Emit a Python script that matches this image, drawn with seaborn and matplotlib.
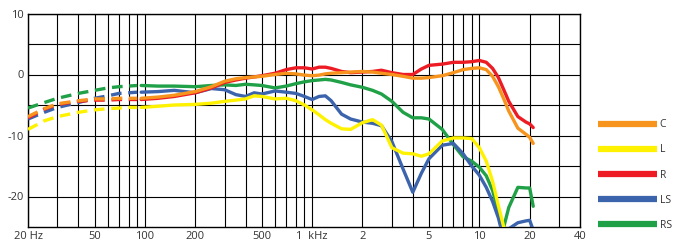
import numpy as np
import pandas as pd
import matplotlib
matplotlib.use("Agg")
import matplotlib.pyplot as plt
from matplotlib.lines import Line2D
from matplotlib.ticker import FixedLocator, NullFormatter
import seaborn as sns

# Frequencies (Hz): dashed low-end part and solid part
freq_low = [20, 25, 30, 40, 50, 60, 70, 80, 90]
freq = [95, 120, 150, 200, 250, 300, 350, 400, 450, 500, 600, 700, 800, 900,
        1000, 1100, 1200, 1300, 1500, 1700, 2000, 2300, 2600, 3000, 3500, 4000,
        4500, 5000, 6000, 7000, 8000, 9000, 10000, 11000, 12000, 13000, 14000,
        15000, 17000, 19000, 20000, 21000]

# Level (dB) per channel
c_low = [-6.9, -5.6, -4.8, -4.3, -4.0, -4.0, -3.9, -3.9, -3.9]
r_low = [-7.1, -5.7, -4.9, -4.4, -4.2, -4.2, -4.1, -4.1, -4.1]
l_low = [-9.0, -7.6, -6.9, -6.2, -5.8, -5.6, -5.5, -5.4, -5.4]
ls_low = [-7.3, -6.2, -5.4, -4.6, -3.9, -3.5, -3.1, -3.0, -2.9]
rs_low = [-5.5, -4.6, -3.9, -3.1, -2.6, -2.2, -2.0, -1.9, -1.8]

c_db = [-3.9, -3.7, -3.4, -2.8, -2.0, -1.1, -0.7, -0.5, -0.4, -0.3, 0.0, 0.2, 0.1, -0.1,
        -0.2, -0.1, 0.1, 0.2, 0.3, 0.4, 0.5, 0.4, 0.2, 0.0, -0.3, -0.6,
        -0.6, -0.5, -0.2, 0.3, 0.8, 1.0, 1.1, 0.8, -0.3, -2.0, -4.0,
        -6.0, -8.8, -9.8, -10.3, -11.3]
r_db = [-4.1, -3.9, -3.6, -3.0, -2.2, -1.3, -0.9, -0.6, -0.4, -0.2, 0.2, 0.8, 1.1, 1.1,
        0.9, 1.2, 1.2, 1.0, 0.5, 0.3, 0.4, 0.5, 0.7, 0.3, 0.0, 0.0,
        0.9, 1.5, 1.7, 2.0, 2.0, 2.1, 2.3, 2.0, 1.0, -0.5, -2.5,
        -4.4, -6.9, -7.8, -8.1, -8.7]
l_db = [-5.4, -5.2, -5.0, -4.9, -4.7, -4.4, -4.2, -4.0, -3.5, -3.6, -4.0, -3.9, -4.3, -5.0,
        -5.8, -6.6, -7.4, -8.0, -8.9, -9.0, -7.9, -7.4, -8.3, -12.0, -12.9, -13.0,
        -13.4, -13.0, -10.9, -10.4, -10.4, -10.5, -12.0, -14.2, -17.5, -21.5, -25.0,
        -28.0]
ls_db = [-2.9, -2.8, -2.6, -3.0, -2.3, -2.5, -3.3, -3.6, -3.0, -3.2, -2.7, -2.9, -3.1, -3.6,
         -4.1, -3.6, -3.5, -4.3, -6.5, -7.3, -7.8, -8.0, -8.4, -11.0, -15.5, -19.3,
         -16.2, -13.8, -11.6, -11.3, -13.0, -15.0, -16.5, -18.5, -20.8, -23.5, -27.0,
         -25.3, -24.3, -24.0, -23.9, -25.5]
rs_db = [-1.8, -1.9, -1.9, -2.0, -1.8, -1.7, -1.8, -1.6, -1.7, -1.8, -2.2, -1.9, -1.5, -1.2,
         -1.0, -0.9, -0.8, -0.9, -1.3, -1.7, -2.1, -2.6, -3.2, -4.4, -6.2, -7.1,
         -7.1, -7.3, -9.0, -11.5, -13.5, -14.2, -15.2, -16.6, -19.0, -22.5, -25.0,
         -21.8, -18.5, -18.6, -18.6, -21.6]

channels = ["C", "L", "R", "LS", "RS"]
colors = {"C": "#F7941D", "L": "#FFF200", "R": "#ED1C24", "LS": "#3B64AD", "RS": "#20A047"}
low = {"C": c_low, "L": l_low, "R": r_low, "LS": ls_low, "RS": rs_low}
main_db = {"C": c_db, "L": l_db, "R": r_db, "LS": ls_db, "RS": rs_db}
draw_order = ["RS", "LS", "L", "R", "C"]

x_ticks = [20, 50, 100, 200, 500, 1000, 2000, 5000, 10000, 20000, 40000]
x_labels = ["20 Hz", "50", "100", "200", "500", "1  kHz", "2", "5", "10", "20", "40"]
y_ticks = [10, 0, -10, -20]
y_labels = ["10", "0", "-10", "-20"]

sns.set_style("white")
plt.rcParams["font.family"] = ["Open Sans", "DejaVu Sans"]

fig = plt.figure(figsize=(6.74, 2.41), dpi=100)
ax = fig.add_axes([28 / 674, 1 - 227 / 241, (580 - 28) / 674, (227 - 13.5) / 241])

for ch in draw_order:
    dlow = pd.DataFrame({"f": freq_low, "db": low[ch]})
    dmain = pd.DataFrame({"f": freq[:len(main_db[ch])], "db": main_db[ch]})
    sns.lineplot(data=dlow, x="f", y="db", ax=ax, color=colors[ch], lw=2.4,
                 dashes=False, linestyle=(0, (3.2, 2.0)), zorder=3)
    sns.lineplot(data=dmain, x="f", y="db", ax=ax, color=colors[ch], lw=2.4, zorder=3)

ax.set_xscale("log")
ax.set_xlim(20, 40000)
ax.set_ylim(-25, 10)

# grid: every decade step, and every 5 dB
vgrid = [m * 10 ** e for e in range(1, 5) for m in range(1, 10)]
vgrid = [v for v in vgrid if 20 <= v <= 40000]
ax.xaxis.set_major_locator(FixedLocator(x_ticks))
ax.set_xticklabels(x_labels)
ax.xaxis.set_minor_locator(FixedLocator(vgrid))
ax.xaxis.set_minor_formatter(NullFormatter())
ax.set_yticks(y_ticks)
ax.set_yticklabels(y_labels)
ax.yaxis.set_minor_locator(FixedLocator([-15, -5, 5]))
ax.grid(True, which="both", color="black", lw=0.8)
ax.set_axisbelow(True)
ax.tick_params(which="both", length=0, labelsize=8, labelcolor="#333333")
ax.tick_params(axis="x", pad=3)
ax.tick_params(axis="y", pad=3)
for s in ax.spines.values():
    s.set_color("black")
    s.set_linewidth(1.0)
ax.set_xlabel("")
ax.set_ylabel("")

handles = [Line2D([], [], color=colors[ch], lw=4.5, solid_capstyle="butt") for ch in channels]
fig.legend(handles, channels, loc="center left", bbox_to_anchor=(593 / 674, 1 - 175 / 241),
           frameon=False, fontsize=7.5, labelspacing=1.36, handlelength=5.6,
           handletextpad=0.3, borderpad=0, labelcolor="#333333")

fig.savefig("out.png", dpi=100)
